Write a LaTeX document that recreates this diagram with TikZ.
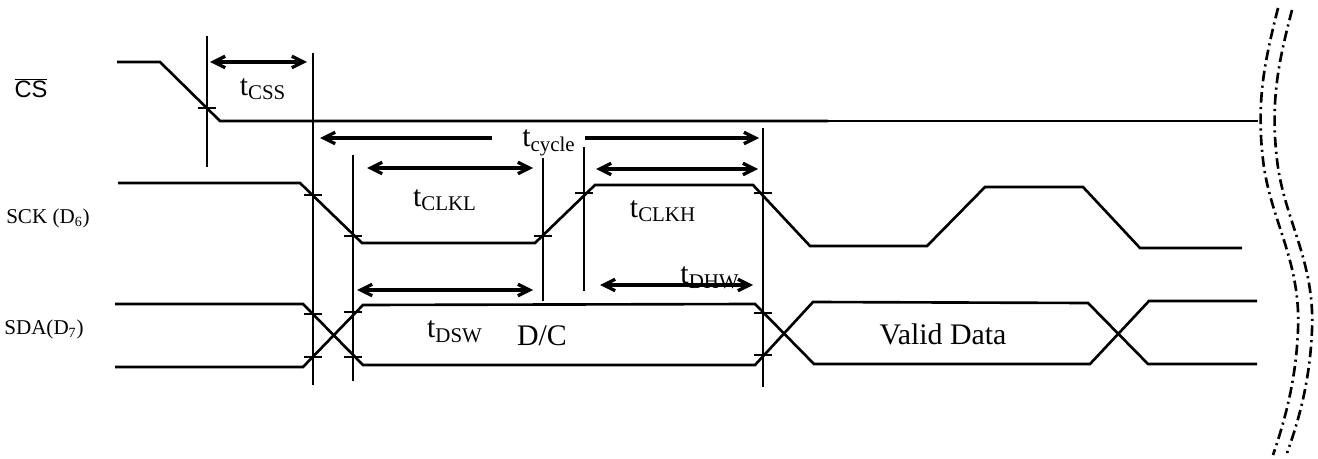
\documentclass[tikz,border=0pt]{standalone}
\usepackage{fontspec}
\setmainfont{Liberation Serif}
\newfontfamily\csfont{Liberation Sans}
\usetikzlibrary{arrows.meta}

\begin{document}
\begin{tikzpicture}[x=0.02cm,y=-0.02cm,
  sig/.style={line width=1.5pt},
  guide/.style={line width=0.6pt},
  tk/.style={line width=0.6pt},
  dim/.style={line width=1.9pt,arrows={Straight Barb[length=6.5pt,width=6.5pt]-Straight Barb[length=6.5pt,width=6.5pt]}},
  lab/.style={inner sep=0pt,font=\fontsize{17}{20}\selectfont},
  side/.style={inner sep=0pt,font=\fontsize{12}{14}\selectfont},
  brk/.style={line width=1.5pt,dash pattern=on 6pt off 2.5pt on 1.2pt off 2.5pt}]
\useasboundingbox (0,0) rectangle (1318,459);
% signal names
\node[inner sep=0pt,font=\csfont\fontsize{13.5}{15}\selectfont] (cs) at (31,88) {$\overline{\hbox{CS}}$};
\node[side] (sck) at (48,218) {SCK (D\textsubscript{6})};
\node[side] (sda) at (44,329) {SDA(D\textsubscript{7})};
% waveforms
\draw[sig] (117,62) -- (160,62) -- (220,121) -- (828,121);
\draw[guide] (828,121) -- (1258,121);
\draw[sig] (118,183) -- (300,183) -- (362,243) -- (535,243) -- (595,185) -- (753,185)
  -- (810,246) -- (927,246) -- (985,187) -- (1083,187) -- (1140,248) -- (1242,248);
\draw[sig] (115,304) -- (303,304) -- (363,365) -- (755,365) -- (813,302) -- (1088,303)
  -- (1148,364) -- (1257,364);
\draw[sig] (115,367) -- (303,367) -- (363,305) -- (755,304) -- (814,364) -- (1090,364)
  -- (1149,301) -- (1257,301);
% guide lines
\draw[guide] (207,36) -- (207,167);
\draw[guide] (313,53) -- (313,385);
\draw[guide] (353,155) -- (353,381);
\draw[guide] (543,158) -- (543,301);
\draw[guide] (584,147) -- (584,291);
\draw[guide] (763,128) -- (763,387);
\foreach \x/\y in {207/108, 313/195, 353/236, 543/236, 584/193, 763/193,
  313/314, 313/357, 353/312, 353/357, 763/313, 763/355}
  \draw[tk] (\x-9,\y) -- (\x+9,\y);
% timing arrows
\draw[dim] (210,62) -- (307,62);
\draw[dim,arrows={-Straight Barb[length=6.5pt,width=6.5pt]}] (492,138) -- (320,138);
\draw[dim,arrows={-Straight Barb[length=6.5pt,width=6.5pt]}] (585,138) -- (759,138);
\draw[dim] (367,168) -- (533,168);
\draw[dim] (596,169) -- (758,169);
\draw[dim] (357,290) -- (533,290);
\draw[dim] (600,285) -- (753,285);
% labels
\node[lab] (tcss) at (263,89) {t\textsubscript{CSS}};
\node[lab] (tcyc) at (549,143) {t\textsubscript{cycle}};
\node[lab] (tclkl) at (445,200) {t\textsubscript{CLKL}};
\node[lab] (tclkh) at (663,211) {t\textsubscript{CLKH}};
\node[lab] (tdhw) at (710,278) {t\textsubscript{DHW}};
\node[lab] (tdsw) at (455,332) {t\textsubscript{DSW}};
\node[lab] (dc) at (542,336) {D/C};
\node[lab] (valid) at (943,334) {Valid Data};
% break
\draw[brk]
  (1278,8) .. controls (1265,60) and (1256,100) .. (1263,160)
  .. controls (1270,220) and (1301,260) .. (1298,330)
  .. controls (1296,380) and (1285,420) .. (1273,455);
\draw[brk]
  (1292,10) .. controls (1279,60) and (1270,100) .. (1277,160)
  .. controls (1284,220) and (1315,260) .. (1312,330)
  .. controls (1310,380) and (1299,420) .. (1287,453);
\end{tikzpicture}
\end{document}
